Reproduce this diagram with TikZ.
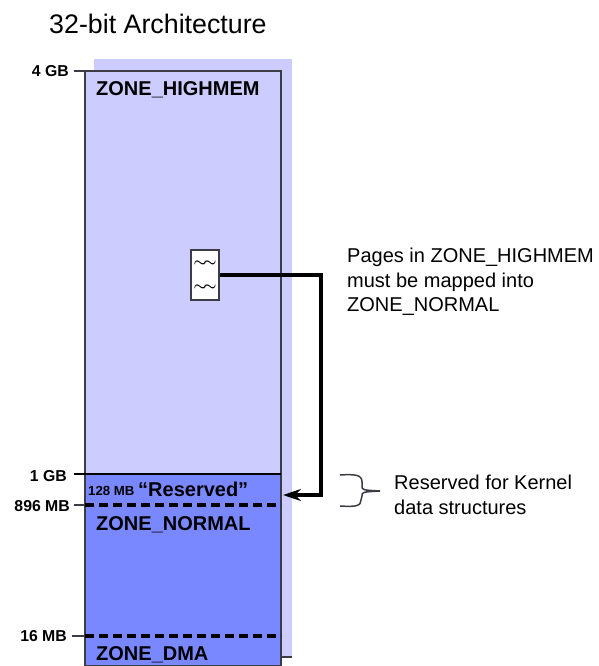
\documentclass[tikz,border=0pt]{standalone}
\usepackage{fontspec}
\setmainfont{Liberation Sans}
\usetikzlibrary{arrows.meta}
\definecolor{lightzone}{HTML}{CCCCFF}
\definecolor{darkzone}{HTML}{7A88FF}
\definecolor{edgegray}{HTML}{3C3C46}
\begin{document}
\begin{tikzpicture}[x=1pt,y=-1pt,
    zonelabel/.style={anchor=west,inner sep=0pt,font=\fontsize{20}{20}\selectfont\bfseries},
    sizelabel/.style={anchor=east,inner sep=0pt,font=\fontsize{15.8}{15.8}\selectfont\bfseries},
    wavetext/.style={inner sep=0pt,font=\fontsize{15}{15}\selectfont\boldmath},
    notetext/.style={anchor=north west,inner sep=0pt,align=left,font=\fontsize{20}{24.6}\selectfont},
    dashline/.style={line width=3.2pt,dash pattern=on 9pt off 5pt}]

      \useasboundingbox (0,0) rectangle (598,666);

      \fill [lightzone] (94,59) rectangle (292,657);
      \fill [lightzone] (85,71) rectangle (94,474);
      \draw [edgegray,line width=1.2pt] (281,657) -- (292,657);
      \fill [darkzone] (85,474) rectangle (281,666);
      \draw [edgegray,line width=2.6pt] (85,666) -- (85,71) -- (281,71) -- (281,666) -- cycle;

      \draw [edgegray,line width=1.6pt] (74,71) -- (85,71);
      \draw [line width=1.6pt] (74,474) -- (281,474);
      \draw [edgegray,line width=1.6pt] (74,505) -- (85,505);
      \draw [dashline] (85,505) -- (281,505);
      \draw [edgegray,line width=1.6pt] (72,636) -- (85,636);
      \draw [dashline] (85,636) -- (281,636);

      \node [sizelabel] (size4gb) at (69,71) {4 GB};
      \node [sizelabel] (size1gb) at (67,476) {1 GB};
      \node [sizelabel] (size896mb) at (70,506) {896 MB};
      \node [sizelabel] (size16mb) at (67,636) {16 MB};

      \node [anchor=west,inner sep=0pt,font=\fontsize{26.8}{26.8}\selectfont] (title) at (49,24) {32-bit Architecture};

      \node [zonelabel] (highmem) at (96,90) {ZONE\_HIGHMEM};
      \node [zonelabel] (normal) at (96,525) {ZONE\_NORMAL};
      \node [zonelabel] (dma) at (96,655) {ZONE\_DMA};
      \node [anchor=west,inner sep=0pt,font=\fontsize{13.2}{13.2}\selectfont\bfseries] (size128mb) at (88,491) {128 MB};
      \node [anchor=west,inner sep=0pt,font=\fontsize{20}{20}\selectfont\bfseries] (reserved) at (138,489) {``Reserved''};

      \node [draw=edgegray,line width=2pt,fill=white,minimum width=28pt,minimum height=50pt,inner sep=0pt] (pagebox) at (205,275) {};
      \node [wavetext] (wave1) at (205,264) {$\sim\!\sim$};
      \node [wavetext] (wave2) at (205,288) {$\sim\!\sim$};

      \coordinate (kernelmap) at (283,495);
      \draw [line width=4pt,-{Stealth[length=18pt,width=12pt]}] (pagebox.east) -- (321,275) -- (321,495) -- (kernelmap);

      \coordinate (bracetip) at (380,491);
      \draw [edgegray,line width=1.5pt] (340,475) .. controls (356,474) and (362,475) .. (362,482) -- (362,486) .. controls (362,490) .. (bracetip);
      \draw [edgegray,line width=1.5pt] (340,506) .. controls (356,507) and (361,506) .. (361,500) -- (362,496) .. controls (362,492) .. (bracetip);

      \node [notetext] (mapnote) at (347,248) {Pages in ZONE\_HIGHMEM\\must be mapped into\\ZONE\_NORMAL};
      \node [notetext] (kernelnote) at (394,475) {Reserved for Kernel\\data structures};

    \end{tikzpicture}
\end{document}
